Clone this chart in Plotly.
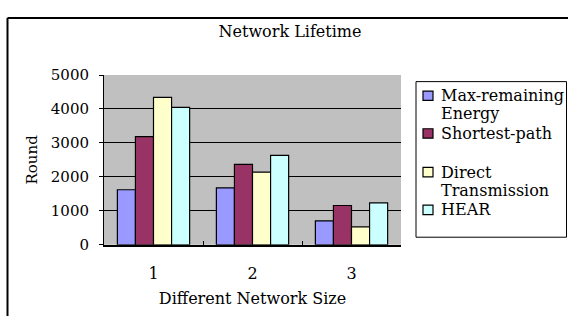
import plotly.graph_objects as go

categories = ["1", "2", "3"]
series_names = ["Max-remaining Energy", "Shortest-path", "Direct Transmission", "HEAR"]
legend_lines = [["Max-remaining", "Energy"], ["Shortest-path"], ["Direct", "Transmission"], ["HEAR"]]
max_remaining = [1620, 1676, 704]
shortest_path = [3185, 2370, 1157]
direct_tx = [4343, 2139, 527]
hear = [4046, 2630, 1231]
colors = ["#9999FF", "#993366", "#FFFFCC", "#CCFFFF"]
y_ticks = [0, 1000, 2000, 3000, 4000, 5000]

W, H = 568, 316
FONT = "DejaVu Serif"
FS = 16
FT = 15

def px(x):
    return x / W

def py(y):
    return 1 - y / H

fig = go.Figure()
for name, vals, c in zip(series_names, [max_remaining, shortest_path, direct_tx, hear], colors):
    fig.add_trace(go.Bar(x=categories, y=vals, name=name, marker=dict(color=c, line=dict(color="black", width=1.2)),
                         showlegend=False))

fig.update_layout(
    width=W, height=H,
    margin=dict(l=0, r=0, t=0, b=0),
    paper_bgcolor="white",
    plot_bgcolor="#C0C0C0",
    barmode="group", bargap=0.27, bargroupgap=0,
    font=dict(family=FONT, size=FT, color="black"),
    title=dict(text="Network Lifetime", x=px(290), y=py(31), xanchor="center", yanchor="middle",
               font=dict(family=FONT, size=FS, color="black")),
    xaxis=dict(domain=[px(104), px(401)], type="category", tickson="boundaries", ticks="inside", ticklen=4,
               tickcolor="black", showline=True, linecolor="black", linewidth=2, showgrid=False,
               ticklabelstandoff=13, tickfont=dict(family=FONT, size=FS),
               title=dict(text="Different Network Size", standoff=11, font=dict(family=FONT, size=FS))),
    yaxis=dict(domain=[py(250), py(70)], range=[0, 5000], tickvals=y_ticks, ticks="outside", ticklen=4,
               tickcolor="black", showline=True, linecolor="black", linewidth=1, showgrid=True,
               gridcolor="black", gridwidth=1, zeroline=False, ticklabelstandoff=7,
               tickfont=dict(family=FONT, size=FT),
               title=dict(text="Round", standoff=9, font=dict(family=FONT, size=FT))),
)

shapes = []
# outer frame (left and top edges)
shapes.append(dict(type="line", xref="paper", yref="paper", x0=px(7.5), x1=1.05, y0=py(9.5), y1=py(9.5),
                   line=dict(color="black", width=2)))
shapes.append(dict(type="line", xref="paper", yref="paper", x0=px(7.5), x1=px(7.5), y0=py(9.5), y1=-0.05,
                   line=dict(color="black", width=2)))
# legend box
shapes.append(dict(type="rect", xref="paper", yref="paper", x0=px(416), x1=px(566.5), y0=py(242), y1=py(77),
                   line=dict(color="black", width=1), fillcolor="white"))
ann = []
sym_y = [92, 132, 173, 213]
line_gap = 19
for lines, c, yc in zip(legend_lines, colors, sym_y):
    shapes.append(dict(type="rect", xref="paper", yref="paper", x0=px(423), x1=px(433), y0=py(yc + 5), y1=py(yc - 5),
                       line=dict(color="black", width=1.2), fillcolor=c))
    for i, t in enumerate(lines):
        ann.append(dict(xref="paper", yref="paper", x=px(439), y=py(yc + i * line_gap), xanchor="left",
                        yanchor="middle", text=t, showarrow=False, align="left",
                        font=dict(family=FONT, size=FS, color="black")))
fig.update_layout(shapes=shapes, annotations=ann)

fig.write_html("out.html", config={"displayModeBar": False},
               post_script="document.body.style.margin='0';document.body.style.padding='0';")
